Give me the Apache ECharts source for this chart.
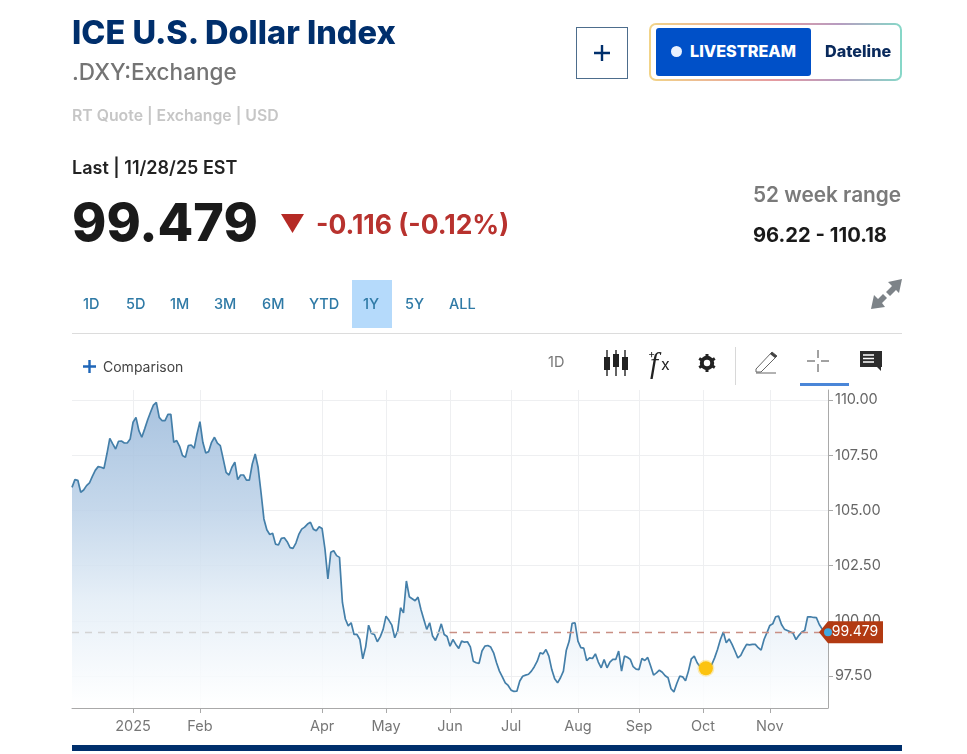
<!DOCTYPE html>
<html>
<head>
<meta charset="utf-8">
<title>ICE U.S. Dollar Index</title>
<script src="https://cdn.jsdelivr.net/npm/echarts@6/dist/echarts.min.js"></script>
<style>
html,body{margin:0;padding:0;background:#fff;}
body{width:967px;height:754px;position:relative;overflow:hidden;font-family:Inter,Lato,sans-serif;}
#main{position:absolute;left:0;top:0;width:967px;height:754px;}
.t{position:absolute;white-space:nowrap;line-height:1;}
.box{position:absolute;box-sizing:border-box;}
.tab{position:absolute;top:297px;font-size:14.5px;font-weight:500;color:#2f7aa6;line-height:1;white-space:nowrap;}
svg{position:absolute;overflow:visible;}
</style>
</head>
<body>
<div id="main"></div>

<div class="t" style="left:72px;top:17px;font-size:32.5px;font-weight:800;color:#002f6c;">ICE U.S. Dollar Index</div>
<div class="t" style="left:72px;top:61px;font-size:22.5px;font-weight:500;color:#747474;">.DXY:Exchange</div>
<div class="t" style="left:72px;top:108px;font-size:15.8px;font-weight:600;color:#c6c6c6;">RT Quote | Exchange | USD</div>
<div class="t" style="left:72px;top:159px;font-size:18px;font-weight:600;color:#222;">Last | 11/28/25 EST</div>
<div class="t" style="left:72px;top:197px;font-size:52px;font-weight:800;color:#1a1a1a;">99.479</div>
<svg style="left:281px;top:214px" width="23" height="20"><path d="M0 0H23L11.5 19Z" fill="#b52a25"/></svg>
<div class="t" style="left:316px;top:211px;font-size:26.5px;font-weight:700;color:#b8322e;">-0.116 (-0.12%)</div>
<div class="t" style="left:753px;top:185px;font-size:20.8px;font-weight:600;color:#7a7a7a;">52 week range</div>
<div class="t" style="left:753px;top:225px;font-size:20.2px;font-weight:700;color:#1a1a1a;">96.22 - 110.18</div>

<div class="box" style="left:576px;top:27px;width:52px;height:52px;border:1.5px solid #4d6d8c;"></div>
<svg style="left:594px;top:45px" width="16" height="16"><path d="M8 0V16M0 8H16" stroke="#002f6c" stroke-width="2.4"/></svg>
<div class="box" style="left:649px;top:23px;width:253px;height:58px;border:2px solid transparent;border-radius:7px;background:linear-gradient(#fff,#fff) padding-box,linear-gradient(90deg,#f2d488,#e59aa0 50%,#b79cc0 75%,#86d8c8) border-box;"></div>
<div class="box" style="left:656px;top:28px;width:155px;height:48px;background:#0050c8;border-radius:3px;"></div>
<svg style="left:671px;top:46px" width="11" height="11"><circle cx="5.5" cy="5.5" r="5.5" fill="#eaf2ff"/></svg>
<div class="t" style="left:690px;top:43px;font-size:16.2px;font-weight:800;color:#fff;">LIVESTREAM</div>
<div class="t" style="left:825px;top:43px;font-size:16.2px;font-weight:800;color:#0a2a5c;">Dateline</div>

<div class="box" style="left:352px;top:280px;width:40px;height:48px;background:#b5dafb;"></div>
<div class="tab" style="left:83px">1D</div>
<div class="tab" style="left:126px">5D</div>
<div class="tab" style="left:170px">1M</div>
<div class="tab" style="left:214px">3M</div>
<div class="tab" style="left:262px">6M</div>
<div class="tab" style="left:309px">YTD</div>
<div class="tab" style="left:363px">1Y</div>
<div class="tab" style="left:405px">5Y</div>
<div class="tab" style="left:449px">ALL</div>
<svg style="left:871px;top:279px" width="32" height="32"><path d="M31 0L17 3L21 7L15 13L19 17L25 11L28 14ZM0 30L3 16L7 20L12 15L16 19L11 24L14 28Z" fill="#7d8388"/></svg>
<div class="box" style="left:72px;top:333px;width:830px;height:1px;background:#dcdcdc;"></div>

<svg style="left:83px;top:360px" width="13" height="13"><path d="M6.5 0V13M0 6.5H13" stroke="#1f66b8" stroke-width="2.4"/></svg>
<div class="t" style="left:103px;top:360px;font-size:14px;color:#444;">Comparison</div>
<div class="t" style="left:548px;top:355px;font-size:14.5px;color:#777;">1D</div>
<svg style="left:603px;top:350px" width="26" height="26"><path d="M4 0V26M13 0V26M22 0V26" stroke="#222" stroke-width="1.4"/><path d="M1 7H7V20H1ZM10 4H16V17H10ZM19 7H25V20H19Z" fill="#222"/></svg>
<div class="t" style="left:650px;top:349px;font-size:29px;font-style:italic;font-family:'Liberation Serif',serif;color:#222;">f</div>
<div class="t" style="left:661px;top:356px;font-size:16px;font-family:Inter;color:#222;">x</div>
<div class="t" style="left:648px;top:349px;font-size:11px;color:#222;">+</div>
<svg style="left:698px;top:354px" width="18" height="18"><circle cx="9" cy="9" r="5.2" fill="none" stroke="#222" stroke-width="4"/><path d="M9 0V4M9 14V18M1.2 4.5L4.6 6.5M13.4 11.5L16.8 13.5M1.2 13.5L4.6 11.5M13.4 6.5L16.8 4.5" stroke="#222" stroke-width="3"/></svg>
<div class="box" style="left:735px;top:347px;width:1px;height:38px;background:#d8d8d8;"></div>
<svg style="left:755px;top:350px" width="24" height="24"><path d="M1 19L17 2L22 6L6 22H1ZM1 23H21" fill="none" stroke="#666" stroke-width="1"/><path d="M17 2L22 6L20 8L15 4Z" fill="#444"/></svg>
<svg style="left:807px;top:350px" width="22" height="22"><path d="M11 0V8M11 14V22M0 11H8M14 11H22" stroke="#444" stroke-width="1"/></svg>
<div class="box" style="left:800px;top:383px;width:49px;height:3px;background:#4a86d8;"></div>
<svg style="left:860px;top:351px" width="23" height="20"><path d="M0 0H22V16H21V20L17 16H0Z" fill="#2c2c2c"/><path d="M3 4H14M3 7.5H14M3 11H14" stroke="#fff" stroke-width="1.3"/></svg>

<div class="box" style="left:72px;top:745px;width:830px;height:6px;background:#002f6c;"></div>

<script>
var xIndex = [21, 44, 86, 108, 130, 151, 174, 195, 217, 240];
var xLabels = ['2025', 'Feb', 'Apr', 'May', 'Jun', 'Jul', 'Aug', 'Sep', 'Oct', 'Nov'];
var yTicks = [97.5, 100, 102.5, 105, 107.5, 110];
var last = 99.479;
var eventIndex = 218;

// one value per weekday
var decJan = [106.04,106.39,106.36,105.82,105.92,106.12,106.24,106.54,106.81,106.98,
  106.95,106.90,107.55,108.26,108.01,107.78,108.13,108.14,108.05,108.05,
  108.23,108.99,109.21,108.61,108.31,108.69,109.09,109.44,109.77,109.89,
  109.21,109.06,109.06,109.35,109.35,108.08,108.16,107.90,107.48,107.40,
  107.93,107.96,107.81,108.46];
var febMar = [109.02,108.08,107.60,107.66,108.08,108.31,108.04,107.93,107.33,106.72,
  106.60,106.95,107.18,106.39,106.60,106.60,106.37,106.37,107.10,107.55,
  106.95,105.82,104.61,104.12,103.91,103.96,103.47,103.43,103.73,103.76,
  103.58,103.31,103.28,103.52,103.91,104.15,104.24,104.38,104.46,104.15,
  104.08,104.26];
var aprMay = [104.18,103.25,101.90,103.10,103.17,102.95,102.87,100.83,100.08,99.77,
  99.91,99.38,99.38,99.15,98.28,98.82,99.80,99.43,99.38,99.05,
  99.27,99.61,100.21,100.02,99.80,99.23,99.53,100.59,100.36,101.80,
  101.09,101.00,100.91,101.07,100.51,100.06,99.61,99.91,99.31,99.11,
  99.43,99.86,99.38,99.29];
var junJul = [98.85,99.15,98.93,98.75,99.08,99.03,99.05,98.82,98.17,98.10,
  98.07,98.63,98.85,98.88,98.81,98.55,98.10,97.72,97.46,97.19,
  97.07,96.86,96.80,96.81,97.27,97.49,97.54,97.58,97.72,97.92,
  98.17,98.55,98.50,98.70,98.40,97.79,97.37,97.19,97.42,97.72,
  98.67,99.08,99.88,99.91];
var augSep = [99.08,98.78,98.76,98.20,98.32,98.29,98.50,98.13,97.87,98.25,
  97.87,98.13,98.25,98.25,98.63,97.72,98.40,98.35,98.25,97.92,
  97.81,97.79,98.29,98.20,98.34,97.95,97.54,97.64,97.76,97.67,
  97.51,97.42,96.92,96.78,97.16,97.49,97.46,97.28,97.72,98.28,
  98.40,98.10,97.92];
var octNov = [97.78,97.85,97.92,98.01,98.32,98.70,99.15,99.49,99.00,99.18,
  98.93,98.63,98.32,98.43,98.70,98.93,98.91,98.93,98.93,98.78,
  98.67,99.15,99.46,99.79,99.86,100.18,100.21,99.83,99.62,99.56,
  99.50,99.43,99.15,99.34,99.49,99.56,100.18,100.18,100.15,100.14,
  99.83,99.62,99.58,99.479];

var values = decJan.concat(febMar, aprMay, junJul, augSep, octNov);
var categories = values.map(function (v, i) {
  var k = xIndex.indexOf(i);
  return k >= 0 ? xLabels[k] : '';
});
var isTick = function (i, name) { return name !== ''; };

var chart = echarts.init(document.getElementById('main'));
chart.setOption({
  animation: false,
  textStyle: { fontFamily: 'Inter' },
  grid: { left: 72, top: 390, width: 756, height: 318 },
  xAxis: {
    type: 'category',
    data: categories,
    boundaryGap: false,
    axisLine: { lineStyle: { color: '#a9a9a9', width: 1 } },
    axisTick: { interval: isTick, length: 5, lineStyle: { color: '#a9a9a9' } },
    axisLabel: { interval: isTick, color: '#777', fontSize: 14.5, margin: 11, hideOverlap: false },
    splitLine: { show: true, interval: isTick, lineStyle: { color: '#eeeff1' } }
  },
  yAxis: {
    type: 'value',
    position: 'right',
    min: 96.05,
    max: 110.45,
    axisLine: { show: true, lineStyle: { color: '#a9a9a9' } },
    axisTick: { show: true, customValues: yTicks, length: 5, lineStyle: { color: '#a9a9a9' } },
    axisLabel: {
      customValues: yTicks, color: '#666', fontSize: 14.5, margin: 7, padding: [6, 0, 0, 0],
      formatter: function (v) { return v.toFixed(2); }
    },
    splitLine: { show: true, lineStyle: { color: '#eeeff1' } }
  },
  series: [{
    type: 'line',
    data: values,
    symbol: 'none',
    clip: false,
    lineStyle: { color: '#447fa9', width: 1.7 },
    areaStyle: {
      opacity: 0.88,
      color: {
        type: 'linear', x: 0, y: 0, x2: 0, y2: 1,
        colorStops: [
          { offset: 0, color: '#9dbbdb' },
          { offset: 0.35, color: '#bdd2e8' },
          { offset: 0.65, color: '#e3edf6' },
          { offset: 1, color: '#ffffff' }
        ]
      },
      origin: 'start'
    },
    markLine: {
      silent: true,
      symbol: 'none',
      label: { show: false },
      data: [
        [{ coord: [0, last], lineStyle: { color: '#d3d3d3', type: [7, 6], width: 1.3 } }, { coord: [130, last] }],
        [{ coord: [130, last], lineStyle: { color: '#c98f84', type: [7, 6], width: 1.3 } }, { coord: [260, last] }]
      ]
    },
    markPoint: {
      silent: true,
      data: [
        {
          coord: [values.length - 1, last],
          symbol: 'path://M0 11L9 0H64V22H9Z',
          symbolSize: [64, 22],
          symbolKeepAspect: false,
          symbolOffset: [23, 0],
          itemStyle: { color: '#b23a12' },
          label: { show: true, formatter: '99.479', color: '#fff', fontSize: 14, offset: [4, 0] }
        },
        {
          coord: [values.length - 1, last],
          symbol: 'circle',
          symbolSize: 8,
          itemStyle: { color: '#3fa9e0' },
          label: { show: false }
        },
        {
          coord: [eventIndex, values[eventIndex]],
          symbol: 'circle',
          symbolSize: 14,
          itemStyle: { color: '#fcc30f', borderColor: 'rgba(252,195,15,0.3)', borderWidth: 3 },
          label: { show: false }
        }
      ]
    }
  }]
});
</script>
</body>
</html>
